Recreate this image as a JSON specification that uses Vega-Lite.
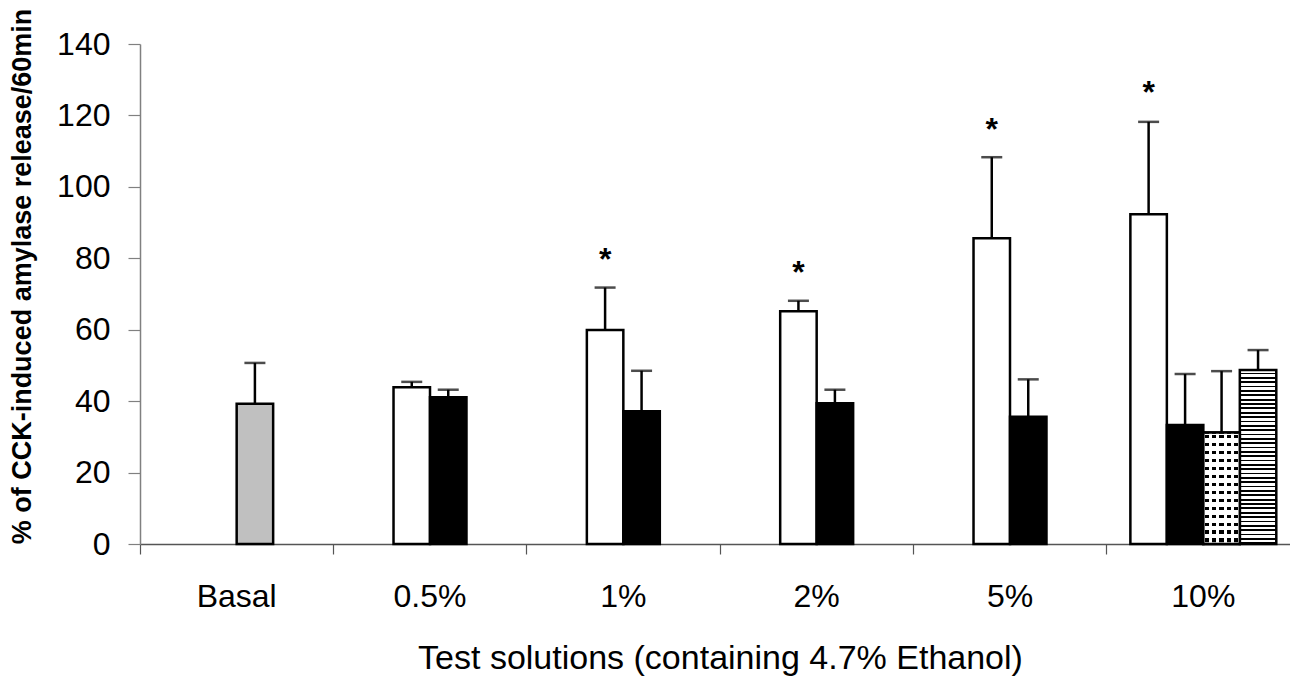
{
  "$schema": "https://vega.github.io/schema/vega-lite/v6.json",
  "autosize": "none",
  "width": 1150,
  "height": 500,
  "padding": {"left": 140, "top": 44, "right": 0, "bottom": 135},
  "background": "#ffffff",
  "config": {
    "view": {"stroke": null},
    "font": "Liberation Sans",
    "axis": {"grid": false, "labelFont": "Liberation Sans", "titleFont": "Liberation Sans", "labelColor": "#000", "titleColor": "#000"}
  },
  "data": {
    "values": [
      {"cat": "Basal", "series": "gray", "bar": "p3", "value": 39.3, "upper": 50.7, "star": null},
      {"cat": "0.5%", "series": "white", "bar": "p2", "value": 43.9, "upper": 45.4, "star": null},
      {"cat": "0.5%", "series": "black", "bar": "p3", "value": 41.1, "upper": 43.2, "star": null},
      {"cat": "1%", "series": "white", "bar": "p2", "value": 59.9, "upper": 71.8, "star": 81.7},
      {"cat": "1%", "series": "black", "bar": "p3", "value": 37.2, "upper": 48.5, "star": null},
      {"cat": "2%", "series": "white", "bar": "p2", "value": 65.2, "upper": 68.1, "star": 78.1},
      {"cat": "2%", "series": "black", "bar": "p3", "value": 39.4, "upper": 43.2, "star": null},
      {"cat": "5%", "series": "white", "bar": "p2", "value": 85.6, "upper": 108.3, "star": 118.3},
      {"cat": "5%", "series": "black", "bar": "p3", "value": 35.6, "upper": 46.1, "star": null},
      {"cat": "10%", "series": "white", "bar": "p1", "value": 92.3, "upper": 118.2, "star": 128.5},
      {"cat": "10%", "series": "black", "bar": "p2", "value": 33.3, "upper": 47.6, "star": null},
      {"cat": "10%", "series": "dotted", "bar": "p3", "value": 31.2, "upper": 48.4, "star": null},
      {"cat": "10%", "series": "hatched", "bar": "p4", "value": 48.7, "upper": 54.3, "star": null}
    ]
  },
  "encoding": {
    "x": {
      "field": "cat", "type": "nominal", "sort": null,
      "scale": {"domain": ["Basal", "0.5%", "1%", "2%", "5%", "10%"], "range": [0, 1160], "paddingInner": 0, "paddingOuter": 0},
      "axis": {
        "title": "Test solutions (containing 4.7% Ethanol)",
        "titleFontSize": 34, "titleFontWeight": "normal", "titleBaseline": "alphabetic", "titlePadding": 56,
        "labelFontSize": 32, "labelAngle": 0, "labelBaseline": "alphabetic", "labelPadding": 52,
        "bandPosition": 0,
        "tickSize": 10, "tickColor": "#555", "tickWidth": 1.2,
        "domainColor": "#555", "domainWidth": 1.5
      }
    },
    "xOffset": {"field": "bar", "type": "nominal", "scale": {"domain": ["p1", "p2", "p3", "p4"], "paddingOuter": 0.65, "paddingInner": 0}},
    "y": {
      "field": "value", "type": "quantitative",
      "scale": {"domain": [0, 140], "nice": false},
      "axis": {
        "title": "% of CCK-induced amylase release/60min",
        "titleFontSize": 27, "titleFontWeight": "bold", "titlePadding": 20, "titleY": 232,
        "values": [0, 20, 40, 60, 80, 100, 120, 140],
        "labelFontSize": 32, "labelPadding": 18, "tickSize": 12, "tickColor": "#808080", "tickWidth": 1.2,
        "domainColor": "#808080", "domainWidth": 1.5
      }
    }
  },
  "layer": [
    {
      "transform": [{"filter": {"field": "series", "oneOf": ["gray", "white", "black"]}}],
      "mark": {"type": "bar", "stroke": "#000", "strokeWidth": 2.5},
      "encoding": {
        "fill": {"field": "series", "type": "nominal", "scale": {"domain": ["gray", "white", "black"], "range": ["#c0c0c0", "#ffffff", "#000000"]}, "legend": null}
      }
    },
    {
      "transform": [{"filter": {"field": "series", "equal": "hatched"}}],
      "mark": {
        "type": "bar", "stroke": "#000", "strokeWidth": 2.5,
        "fill": {"gradient": "linear", "x1": 0, "y1": 0, "x2": 0, "y2": 1, "stops": [
          {"offset": 0, "color": "#fff"}, {"offset": 0.015, "color": "#fff"}, {"offset": 0.015, "color": "#000"}, {"offset": 0.025, "color": "#000"},
          {"offset": 0.025, "color": "#fff"}, {"offset": 0.04, "color": "#fff"}, {"offset": 0.04, "color": "#000"}, {"offset": 0.05, "color": "#000"},
          {"offset": 0.05, "color": "#fff"}, {"offset": 0.065, "color": "#fff"}, {"offset": 0.065, "color": "#000"}, {"offset": 0.075, "color": "#000"},
          {"offset": 0.075, "color": "#fff"}, {"offset": 0.09, "color": "#fff"}, {"offset": 0.09, "color": "#000"}, {"offset": 0.1, "color": "#000"},
          {"offset": 0.1, "color": "#fff"}, {"offset": 0.115, "color": "#fff"}, {"offset": 0.115, "color": "#000"}, {"offset": 0.125, "color": "#000"},
          {"offset": 0.125, "color": "#fff"}, {"offset": 0.14, "color": "#fff"}, {"offset": 0.14, "color": "#000"}, {"offset": 0.15, "color": "#000"},
          {"offset": 0.15, "color": "#fff"}, {"offset": 0.165, "color": "#fff"}, {"offset": 0.165, "color": "#000"}, {"offset": 0.175, "color": "#000"},
          {"offset": 0.175, "color": "#fff"}, {"offset": 0.19, "color": "#fff"}, {"offset": 0.19, "color": "#000"}, {"offset": 0.2, "color": "#000"},
          {"offset": 0.2, "color": "#fff"}, {"offset": 0.215, "color": "#fff"}, {"offset": 0.215, "color": "#000"}, {"offset": 0.225, "color": "#000"},
          {"offset": 0.225, "color": "#fff"}, {"offset": 0.24, "color": "#fff"}, {"offset": 0.24, "color": "#000"}, {"offset": 0.25, "color": "#000"},
          {"offset": 0.25, "color": "#fff"}, {"offset": 0.265, "color": "#fff"}, {"offset": 0.265, "color": "#000"}, {"offset": 0.275, "color": "#000"},
          {"offset": 0.275, "color": "#fff"}, {"offset": 0.29, "color": "#fff"}, {"offset": 0.29, "color": "#000"}, {"offset": 0.3, "color": "#000"},
          {"offset": 0.3, "color": "#fff"}, {"offset": 0.315, "color": "#fff"}, {"offset": 0.315, "color": "#000"}, {"offset": 0.325, "color": "#000"},
          {"offset": 0.325, "color": "#fff"}, {"offset": 0.34, "color": "#fff"}, {"offset": 0.34, "color": "#000"}, {"offset": 0.35, "color": "#000"},
          {"offset": 0.35, "color": "#fff"}, {"offset": 0.365, "color": "#fff"}, {"offset": 0.365, "color": "#000"}, {"offset": 0.375, "color": "#000"},
          {"offset": 0.375, "color": "#fff"}, {"offset": 0.39, "color": "#fff"}, {"offset": 0.39, "color": "#000"}, {"offset": 0.4, "color": "#000"},
          {"offset": 0.4, "color": "#fff"}, {"offset": 0.415, "color": "#fff"}, {"offset": 0.415, "color": "#000"}, {"offset": 0.425, "color": "#000"},
          {"offset": 0.425, "color": "#fff"}, {"offset": 0.44, "color": "#fff"}, {"offset": 0.44, "color": "#000"}, {"offset": 0.45, "color": "#000"},
          {"offset": 0.45, "color": "#fff"}, {"offset": 0.465, "color": "#fff"}, {"offset": 0.465, "color": "#000"}, {"offset": 0.475, "color": "#000"},
          {"offset": 0.475, "color": "#fff"}, {"offset": 0.49, "color": "#fff"}, {"offset": 0.49, "color": "#000"}, {"offset": 0.5, "color": "#000"},
          {"offset": 0.5, "color": "#fff"}, {"offset": 0.515, "color": "#fff"}, {"offset": 0.515, "color": "#000"}, {"offset": 0.525, "color": "#000"},
          {"offset": 0.525, "color": "#fff"}, {"offset": 0.54, "color": "#fff"}, {"offset": 0.54, "color": "#000"}, {"offset": 0.55, "color": "#000"},
          {"offset": 0.55, "color": "#fff"}, {"offset": 0.565, "color": "#fff"}, {"offset": 0.565, "color": "#000"}, {"offset": 0.575, "color": "#000"},
          {"offset": 0.575, "color": "#fff"}, {"offset": 0.59, "color": "#fff"}, {"offset": 0.59, "color": "#000"}, {"offset": 0.6, "color": "#000"},
          {"offset": 0.6, "color": "#fff"}, {"offset": 0.615, "color": "#fff"}, {"offset": 0.615, "color": "#000"}, {"offset": 0.625, "color": "#000"},
          {"offset": 0.625, "color": "#fff"}, {"offset": 0.64, "color": "#fff"}, {"offset": 0.64, "color": "#000"}, {"offset": 0.65, "color": "#000"},
          {"offset": 0.65, "color": "#fff"}, {"offset": 0.665, "color": "#fff"}, {"offset": 0.665, "color": "#000"}, {"offset": 0.675, "color": "#000"},
          {"offset": 0.675, "color": "#fff"}, {"offset": 0.69, "color": "#fff"}, {"offset": 0.69, "color": "#000"}, {"offset": 0.7, "color": "#000"},
          {"offset": 0.7, "color": "#fff"}, {"offset": 0.715, "color": "#fff"}, {"offset": 0.715, "color": "#000"}, {"offset": 0.725, "color": "#000"},
          {"offset": 0.725, "color": "#fff"}, {"offset": 0.74, "color": "#fff"}, {"offset": 0.74, "color": "#000"}, {"offset": 0.75, "color": "#000"},
          {"offset": 0.75, "color": "#fff"}, {"offset": 0.765, "color": "#fff"}, {"offset": 0.765, "color": "#000"}, {"offset": 0.775, "color": "#000"},
          {"offset": 0.775, "color": "#fff"}, {"offset": 0.79, "color": "#fff"}, {"offset": 0.79, "color": "#000"}, {"offset": 0.8, "color": "#000"},
          {"offset": 0.8, "color": "#fff"}, {"offset": 0.815, "color": "#fff"}, {"offset": 0.815, "color": "#000"}, {"offset": 0.825, "color": "#000"},
          {"offset": 0.825, "color": "#fff"}, {"offset": 0.84, "color": "#fff"}, {"offset": 0.84, "color": "#000"}, {"offset": 0.85, "color": "#000"},
          {"offset": 0.85, "color": "#fff"}, {"offset": 0.865, "color": "#fff"}, {"offset": 0.865, "color": "#000"}, {"offset": 0.875, "color": "#000"},
          {"offset": 0.875, "color": "#fff"}, {"offset": 0.89, "color": "#fff"}, {"offset": 0.89, "color": "#000"}, {"offset": 0.9, "color": "#000"},
          {"offset": 0.9, "color": "#fff"}, {"offset": 0.915, "color": "#fff"}, {"offset": 0.915, "color": "#000"}, {"offset": 0.925, "color": "#000"},
          {"offset": 0.925, "color": "#fff"}, {"offset": 0.94, "color": "#fff"}, {"offset": 0.94, "color": "#000"}, {"offset": 0.95, "color": "#000"},
          {"offset": 0.95, "color": "#fff"}, {"offset": 0.965, "color": "#fff"}, {"offset": 0.965, "color": "#000"}, {"offset": 0.975, "color": "#000"},
          {"offset": 0.975, "color": "#fff"}, {"offset": 0.99, "color": "#fff"}, {"offset": 0.99, "color": "#000"}, {"offset": 1, "color": "#000"}
        ]}
      }
    },
    {
      "transform": [{"filter": {"field": "series", "equal": "dotted"}}],
      "mark": {
        "type": "bar", "stroke": "#000", "strokeWidth": 2.5,
        "fill": {"gradient": "linear", "x1": 0, "y1": 0, "x2": 0, "y2": 1, "stops": [
          {"offset": 0, "color": "#fff"},
          {"offset": 0.0214, "color": "#fff"}, {"offset": 0.0214, "color": "#000"}, {"offset": 0.05, "color": "#000"}, {"offset": 0.05, "color": "#fff"},
          {"offset": 0.0929, "color": "#fff"}, {"offset": 0.0929, "color": "#000"}, {"offset": 0.1214, "color": "#000"}, {"offset": 0.1214, "color": "#fff"},
          {"offset": 0.1643, "color": "#fff"}, {"offset": 0.1643, "color": "#000"}, {"offset": 0.1929, "color": "#000"}, {"offset": 0.1929, "color": "#fff"},
          {"offset": 0.2357, "color": "#fff"}, {"offset": 0.2357, "color": "#000"}, {"offset": 0.2643, "color": "#000"}, {"offset": 0.2643, "color": "#fff"},
          {"offset": 0.3071, "color": "#fff"}, {"offset": 0.3071, "color": "#000"}, {"offset": 0.3357, "color": "#000"}, {"offset": 0.3357, "color": "#fff"},
          {"offset": 0.3786, "color": "#fff"}, {"offset": 0.3786, "color": "#000"}, {"offset": 0.4071, "color": "#000"}, {"offset": 0.4071, "color": "#fff"},
          {"offset": 0.45, "color": "#fff"}, {"offset": 0.45, "color": "#000"}, {"offset": 0.4786, "color": "#000"}, {"offset": 0.4786, "color": "#fff"},
          {"offset": 0.5214, "color": "#fff"}, {"offset": 0.5214, "color": "#000"}, {"offset": 0.55, "color": "#000"}, {"offset": 0.55, "color": "#fff"},
          {"offset": 0.5929, "color": "#fff"}, {"offset": 0.5929, "color": "#000"}, {"offset": 0.6214, "color": "#000"}, {"offset": 0.6214, "color": "#fff"},
          {"offset": 0.6643, "color": "#fff"}, {"offset": 0.6643, "color": "#000"}, {"offset": 0.6929, "color": "#000"}, {"offset": 0.6929, "color": "#fff"},
          {"offset": 0.7357, "color": "#fff"}, {"offset": 0.7357, "color": "#000"}, {"offset": 0.7643, "color": "#000"}, {"offset": 0.7643, "color": "#fff"},
          {"offset": 0.8071, "color": "#fff"}, {"offset": 0.8071, "color": "#000"}, {"offset": 0.8357, "color": "#000"}, {"offset": 0.8357, "color": "#fff"},
          {"offset": 0.8786, "color": "#fff"}, {"offset": 0.8786, "color": "#000"}, {"offset": 0.9071, "color": "#000"}, {"offset": 0.9071, "color": "#fff"},
          {"offset": 0.95, "color": "#fff"}, {"offset": 0.95, "color": "#000"}, {"offset": 0.9786, "color": "#000"}, {"offset": 0.9786, "color": "#fff"},
          {"offset": 1, "color": "#fff"}
        ]}
      }
    },
    {
      "transform": [{"filter": {"field": "series", "equal": "dotted"}}],
      "mark": {
        "type": "bar", "stroke": "#000", "strokeWidth": 2.5,
        "fill": {"gradient": "linear", "x1": 0, "y1": 0, "x2": 1, "y2": 0, "stops": [
          {"offset": 0, "color": "#fff"}, {"offset": 0.04, "color": "#fff"}, {"offset": 0.04, "color": "rgba(255,255,255,0)"}, {"offset": 0.16, "color": "rgba(255,255,255,0)"},
          {"offset": 0.16, "color": "#fff"}, {"offset": 0.24, "color": "#fff"}, {"offset": 0.24, "color": "rgba(255,255,255,0)"}, {"offset": 0.36, "color": "rgba(255,255,255,0)"},
          {"offset": 0.36, "color": "#fff"}, {"offset": 0.44, "color": "#fff"}, {"offset": 0.44, "color": "rgba(255,255,255,0)"}, {"offset": 0.56, "color": "rgba(255,255,255,0)"},
          {"offset": 0.56, "color": "#fff"}, {"offset": 0.64, "color": "#fff"}, {"offset": 0.64, "color": "rgba(255,255,255,0)"}, {"offset": 0.76, "color": "rgba(255,255,255,0)"},
          {"offset": 0.76, "color": "#fff"}, {"offset": 0.84, "color": "#fff"}, {"offset": 0.84, "color": "rgba(255,255,255,0)"}, {"offset": 0.96, "color": "rgba(255,255,255,0)"},
          {"offset": 0.96, "color": "#fff"}, {"offset": 1, "color": "#fff"}
        ]}
      }
    },
    {
      "mark": {"type": "rule", "color": "#000", "strokeWidth": 2.5},
      "encoding": {"y2": {"field": "upper"}}
    },
    {
      "mark": {"type": "tick", "orient": "horizontal", "color": "#000", "size": 21, "thickness": 2.5},
      "encoding": {"y": {"field": "upper", "type": "quantitative"}}
    },
    {
      "transform": [{"filter": "datum.star != null"}],
      "mark": {"type": "text", "text": "*", "fontSize": 32, "fontWeight": "bold", "font": "Liberation Sans", "baseline": "alphabetic", "dy": 18, "color": "#000"},
      "encoding": {"y": {"field": "star", "type": "quantitative"}}
    }
  ]
}
